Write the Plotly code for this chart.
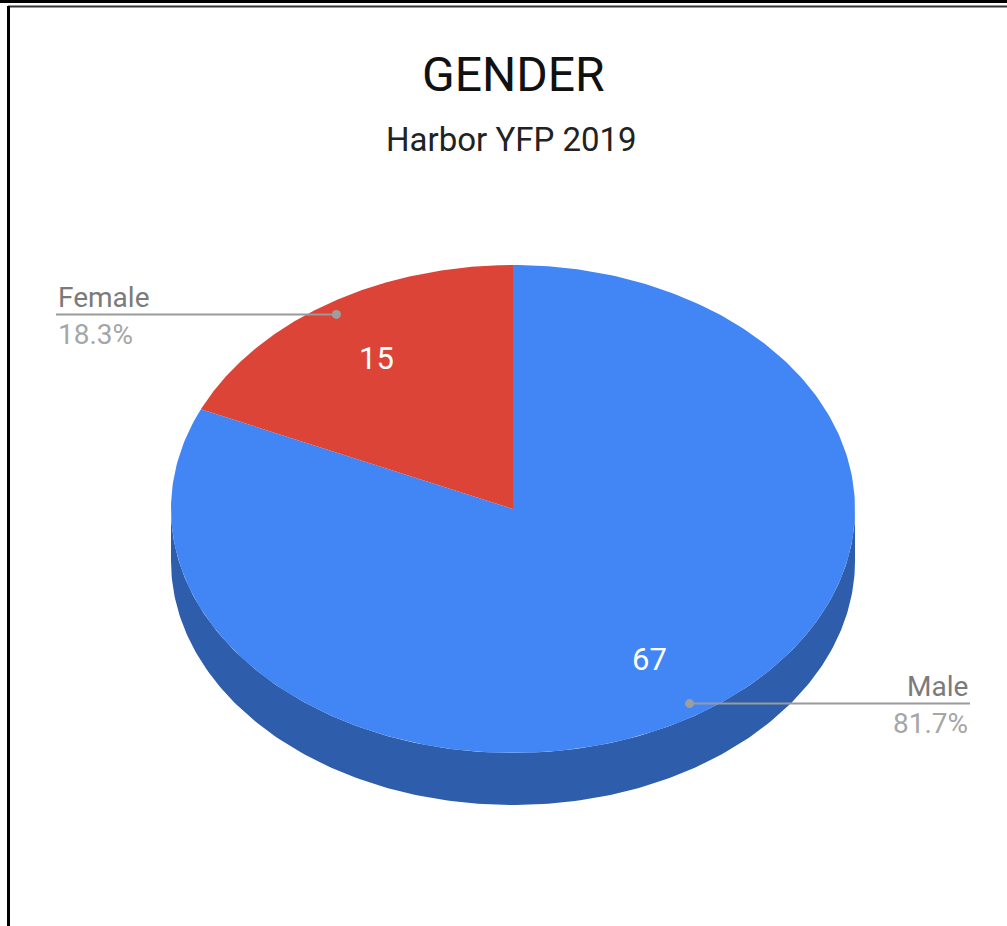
import numpy as np
import plotly.graph_objects as go

labels = ["Male", "Female"]
counts = [67, 15]
top_colors = ["#4285F4", "#DB4437"]
side_colors = ["#2E5DAB", "#992F26"]
title = "GENDER"
subtitle = "Harbor YFP 2019"

W, H = 1007, 926
cx, cy = 513, 509      # centre of the top face (px)
rx, ry = 342, 244      # ellipse radii
depth = 52             # pie thickness
FONT = "Roboto"


def pt(ang, r=1.0, dy=0.0):
    # ang: degrees clockwise from 12 o'clock
    t = np.radians(ang)
    return cx + rx * r * np.sin(t), cy - ry * r * np.cos(t) + dy


total = sum(counts)
shares = [c / total for c in counts]
starts = np.cumsum([0] + shares[:-1]) * 360
ends = starts + np.array(shares) * 360

fig = go.Figure()

# front wall of each slice (only the part facing the viewer, 90..270 deg)
for a0, a1, col in zip(starts, ends, side_colors):
    s, e = max(a0, 90), min(a1, 270)
    if e <= s:
        continue
    angs = np.linspace(s, e, 200)
    x1, y1 = pt(angs)
    x2, y2 = pt(angs[::-1], dy=depth)
    fig.add_trace(go.Scatter(x=np.r_[x1, x2], y=np.r_[y1, y2], fill="toself",
                             fillcolor=col, mode="lines", line=dict(width=0),
                             hoverinfo="skip", showlegend=False))

# top faces
for a0, a1, col, lab, c in zip(starts, ends, top_colors, labels, counts):
    angs = np.linspace(a0, a1, 300)
    x, y = pt(angs)
    fig.add_trace(go.Scatter(x=np.r_[cx, x, cx], y=np.r_[cy, y, cy], fill="toself",
                             fillcolor=col, mode="lines", line=dict(width=0),
                             name=lab, text=f"{lab}: {c}", hoverinfo="text",
                             showlegend=False))

# labels
for a0, a1, lab, c, sh in zip(starts, ends, labels, counts, shares):
    mid = (a0 + a1) / 2
    ix, iy = pt(mid, 0.735)
    fig.add_annotation(x=ix, y=iy, text=str(c), showarrow=False,
                       font=dict(family=FONT, size=31, color="white"))
    dx, dy = pt(mid, 0.95)
    right = dx > cx
    edge = 970 if right else 56
    fig.add_trace(go.Scatter(x=[edge, dx], y=[dy, dy], mode="lines",
                             line=dict(color="#9A9A9A", width=2),
                             hoverinfo="skip", showlegend=False))
    fig.add_trace(go.Scatter(x=[dx], y=[dy], mode="markers",
                             marker=dict(color="#9E9E9E", size=9),
                             hoverinfo="skip", showlegend=False))
    anchor = "right" if right else "left"
    fig.add_annotation(x=edge, y=dy - 17, text=lab, showarrow=False,
                       xanchor=anchor, yanchor="middle",
                       font=dict(family=FONT, size=28, color="#7B7B7B"))
    fig.add_annotation(x=edge, y=dy + 20, text=f"{sh * 100:.1f}%", showarrow=False,
                       xanchor=anchor, yanchor="middle",
                       font=dict(family=FONT, size=28, color="#A6A6A6"))

fig.add_annotation(x=cx, y=74, text=title, showarrow=False,
                   font=dict(family=FONT, size=48, color="#111111"))
fig.add_annotation(x=511, y=139, text=subtitle, showarrow=False,
                   font=dict(family=FONT, size=33, color="#222222"))

# screenshot frame
fig.add_shape(type="line", x0=0, x1=W, y0=1.5, y1=1.5, line=dict(color="black", width=3))
fig.add_shape(type="line", x0=8, x1=W, y0=6.5, y1=6.5, line=dict(color="#333333", width=2))
fig.add_shape(type="line", x0=8.5, x1=8.5, y0=6, y1=H, line=dict(color="black", width=3))

fig.update_xaxes(range=[0, W], visible=False, fixedrange=True)
fig.update_yaxes(range=[H, 0], visible=False, fixedrange=True)
fig.update_layout(width=W, height=H, margin=dict(l=0, r=0, t=0, b=0),
                  paper_bgcolor="white", plot_bgcolor="white")

fig.write_html("out.html", config={"displayModeBar": False},
               post_script="document.body.style.margin='0';document.body.style.overflow='hidden';")
